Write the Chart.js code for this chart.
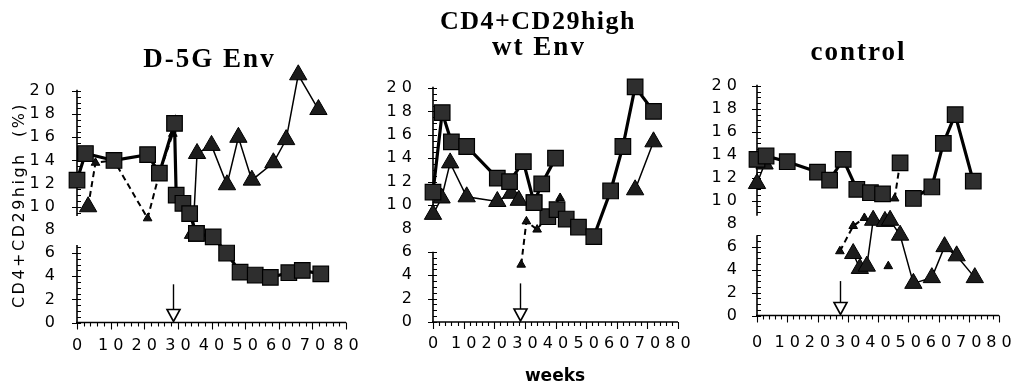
<!DOCTYPE html>
<html>
<head>
<meta charset="utf-8">
<script src="https://cdn.jsdelivr.net/npm/chart.js@4.4.1/dist/chart.umd.min.js"></script>
<style>
  html, body { margin: 0; padding: 0; background: #fff; }
  #wrap { position: relative; width: 1023px; height: 387px; overflow: hidden; background: #fff; }
  #wrap canvas { position: absolute; left: 0; top: 0; }
</style>
</head>
<body>
<div id="wrap">
  <canvas id="pD5G" width="1023" height="387"></canvas>
  <canvas id="pWt" width="1023" height="387"></canvas>
  <canvas id="pCtl" width="1023" height="387"></canvas>
</div>
<script>
// ---- axis ticks ----
const weekTicks = [0, 10, 20, 30, 40, 50, 60, 70, 80];
const pctTicks = [0, 2, 4, 6, 8, 10, 12, 14, 16, 18, 20];

// ---- D-5G Env group (CD4+CD29high %, by week) ----
const d5gSqAWeeks  = [0, 2.5, 11, 21, 24.5, 29, 29.5, 31.5, 33.5, 35.5];
const d5gSqAValues = [12.3, 14.6, 14.0, 14.5, 12.9, 17.2, 11.0, 10.3, 9.4, 7.7];
const d5gSqBWeeks  = [35.5, 40.5, 44.5, 48.5, 53, 57.5, 63, 67, 72.5];
const d5gSqBValues = [7.7, 7.4, 6.0, 4.35, 4.1, 3.9, 4.3, 4.5, 4.2];
const d5gTriWeeks  = [3.3, 20, 34.5, 35.7, 40, 44.6, 48, 52, 58.4, 62.2, 65.8, 71.8];
const d5gTriValues = [10.0, null, 7.7, 14.6, 15.3, 11.9, 16.0, 12.3, 13.8, 15.8, 21.4, 18.4];
const d5gAltWeeks  = [3.3, 5.5, 11, 21, 24.5, 28.5];
const d5gAltValues = [10.0, 13.8, 14.0, 9.0, 12.9, 16.3];

// ---- wt Env group ----
const wtSqAWeeks  = [0, 3, 6, 11, 21, 25, 29.5, 33, 35.5, 40];
const wtSqAValues = [11.1, 17.9, 15.4, 15.0, 12.3, 12.0, 13.7, 10.2, 11.8, 14.0];
const wtSqBWeeks  = [33, 37.5, 40.5, 43.5, 47.5, 52.5, 58, 62, 66, 72];
const wtSqBValues = [10.2, 9.0, 9.6, 8.8, 8.1, 7.3, 11.2, 15.0, 20.1, 18.0];
const wtTriWeeks  = [0, 2.8, 5.6, 11, 21, 25.5, 28, 45, 66, 72];
const wtTriValues = [9.2, 10.6, 13.6, 10.7, 10.3, 11.0, 10.4, null, 11.3, 15.4];
const wtAltWeeks  = [28.8, 30.5, 34, 41.5];
const wtAltValues = [4.9, 8.6, 7.9, 10.6];

// ---- control group ----
const ctlSqAWeeks  = [0, 3, 10, 20, 24, 28.5, 33, 37.5, 41.5];
const ctlSqAValues = [13.6, 13.9, 13.4, 12.5, 11.8, 13.6, 11.0, 10.7, 10.6];
const ctlSqBWeeks  = [47.3, 49.5, 51.7, 57.8, 61.6, 65.5, 71.5];
const ctlSqBValues = [13.3, null, 10.2, 11.2, 15.0, 17.5, 11.7];
const ctlTriWeeks  = [0, 2.5, 20, 31.8, 34, 36.3, 38.4, 42.3, 44, 47.3, 51.7, 57.8, 62, 66, 72];
const ctlTriValues = [11.5, 13.2, null, 5.4, 4.1, 4.3, 8.3, 8.2, 8.3, 7.0, 2.8, 3.3, 6.0, 5.2, 3.3];
const ctlAltWeeks  = [27.4, 31.8, 35.5, 38, 43.4, 44.5, 45.5, 47.3];
const ctlAltValues = [5.6, 7.8, 8.5, null, 4.3, null, 10.2, 13.3];

// week of the arrow marker on each panel
const arrowWeeks = [28.5, 28.5, 27.5];

const pts = (w, v) => w.map((x, i) => ({ x, y: v[i] }));
const spaced = v => String(v).split('').join(' ');

const W = 1023, H = 387, Y_W = 62, X_H = 34;

// draws broken y axis, x axis, minor ticks, arrow and text
const panelDecor = {
  id: 'panelDecor',
  beforeDatasetsDraw(chart, args, o) {
    const ctx = chart.ctx, xs = chart.scales.x, ys = chart.scales.y;
    const x0 = xs.getPixelForValue(0), x1 = xs.getPixelForValue(80);
    const yb = ys.getPixelForValue(0);
    ctx.save();
    ctx.strokeStyle = '#000';
    ctx.lineWidth = 1.6;
    ctx.beginPath();
    ctx.moveTo(x0, ys.getPixelForValue(20.1));
    ctx.lineTo(x0, ys.getPixelForValue(o.gap[1]));
    ctx.moveTo(x0, ys.getPixelForValue(o.gap[0]));
    ctx.lineTo(x0, yb);
    ctx.moveTo(x0 - 1, yb);
    ctx.lineTo(x1, yb);
    ctx.stroke();
    ctx.lineWidth = 1.1;
    ctx.beginPath();
    for (let v = 0; v <= 20.001; v += 0.5) {
      if (v > o.gap[0] + 0.01 && v < o.gap[1] - 0.01) continue;
      const y = Math.round(ys.getPixelForValue(v)) + 0.5;
      if (Math.abs(v % 2) < 0.01) { ctx.moveTo(x0 - 5, y); ctx.lineTo(x0 + 4, y); }
      else { ctx.moveTo(x0, y); ctx.lineTo(x0 + 4, y); }
    }
    for (let w = 0; w <= 80; w += 2) {
      const x = Math.round(xs.getPixelForValue(w)) + 0.5;
      const len = (w % 10 === 0) ? 7 : 4;
      ctx.moveTo(x, yb); ctx.lineTo(x, yb + len);
    }
    ctx.stroke();
    ctx.restore();
  },
  afterDatasetsDraw(chart, args, o) {
    const ctx = chart.ctx, xs = chart.scales.x, ys = chart.scales.y;
    const ax = Math.round(xs.getPixelForValue(o.arrowWeek)) + 0.5;
    const tip = ys.getPixelForValue(0) - 1;
    const top = ys.getPixelForValue(o.arrowFrom);
    const hh = 12, hw = 6.5;
    ctx.save();
    ctx.strokeStyle = '#000';
    ctx.lineWidth = 1.4;
    ctx.beginPath();
    ctx.moveTo(ax, top); ctx.lineTo(ax, tip - hh);
    ctx.stroke();
    ctx.beginPath();
    ctx.moveTo(ax - hw, tip - hh); ctx.lineTo(ax + hw, tip - hh); ctx.lineTo(ax, tip);
    ctx.closePath();
    ctx.fillStyle = '#fff';
    ctx.fill();
    ctx.lineWidth = 1.6;
    ctx.stroke();
    ctx.restore();
  },
  afterDraw(chart, args, o) {
    const ctx = chart.ctx;
    (o.texts || []).forEach(t => {
      ctx.save();
      ctx.font = t.font;
      ctx.fillStyle = '#000';
      ctx.textAlign = 'center';
      ctx.textBaseline = 'alphabetic';
      if ('letterSpacing' in ctx) ctx.letterSpacing = t.spacing || '0px';
      ctx.translate(t.x, t.y);
      if (t.rotate) ctx.rotate(t.rotate);
      ctx.fillText(t.text, 0, 0);
      ctx.restore();
    });
  }
};

function makeDatasets(sqA, sqB, tri, alt) {
  const sqStyle = {
    borderColor: '#000', borderWidth: 3.2, pointStyle: 'rect', pointRadius: 11,
    pointBackgroundColor: '#2e2e2e', pointBorderColor: '#000', pointBorderWidth: 1.2,
    tension: 0, spanGaps: false, clip: false
  };
  return [
    Object.assign({ label: 'A', data: sqA }, sqStyle),
    Object.assign({ label: 'B', data: sqB }, sqStyle),
    {
      label: 'C', data: tri, borderColor: '#000', borderWidth: 1.5,
      pointStyle: 'triangle', pointRadius: 10, pointBackgroundColor: '#1c1c1c',
      pointBorderColor: '#000', pointBorderWidth: 1, tension: 0, spanGaps: false, clip: false
    },
    {
      label: 'D', data: alt, borderColor: '#000', borderWidth: 2, borderDash: [6, 4],
      pointStyle: 'triangle', pointRadius: 5, pointBackgroundColor: '#111',
      pointBorderColor: '#000', pointBorderWidth: 1, tension: 0, spanGaps: false, clip: false
    }
  ];
}

function makePanel(id, area, yPx20, labelPad, datasets, decor) {
  const pxPerUnit = (area.bottom - yPx20) / 20;
  const top = area.bottom - 22 * pxPerUnit;
  const tickFont = { family: '"DejaVu Sans", sans-serif', size: 16 };
  new Chart(document.getElementById(id), {
    type: 'line',
    data: { datasets },
    options: {
      responsive: false,
      animation: false,
      events: [],
      layout: {
        padding: {
          left: area.left - Y_W,
          right: W - area.right,
          top: top,
          bottom: H - area.bottom - X_H
        }
      },
      plugins: {
        legend: { display: false },
        tooltip: { enabled: false },
        title: { display: false },
        panelDecor: decor
      },
      scales: {
        x: {
          type: 'linear', min: 0, max: 80,
          grid: { display: false }, border: { display: false },
          afterBuildTicks: s => { s.ticks = weekTicks.map(v => ({ value: v })); },
          afterFit: s => { s.height = X_H; },
          ticks: {
            color: '#000', font: tickFont, padding: labelPad.x, maxRotation: 0,
            autoSkip: false, callback: v => spaced(v)
          }
        },
        y: {
          type: 'linear', min: 0, max: 22,
          grid: { display: false }, border: { display: false },
          afterBuildTicks: s => { s.ticks = pctTicks.map(v => ({ value: v })); },
          afterFit: s => { s.width = Y_W; },
          ticks: {
            color: '#000', font: tickFont, padding: labelPad.y,
            autoSkip: false, callback: v => spaced(v)
          }
        }
      }
    },
    plugins: [panelDecor]
  });
}

const serifBold = (px) => `bold ${px}px "Liberation Serif", "Times New Roman", serif`;

makePanel('pD5G', { left: 77, right: 346, bottom: 322.5 }, 91, { x: 6, y: 14 },
  makeDatasets(pts(d5gSqAWeeks, d5gSqAValues), pts(d5gSqBWeeks, d5gSqBValues),
               pts(d5gTriWeeks, d5gTriValues), pts(d5gAltWeeks, d5gAltValues)),
  {
    gap: [6.7, 9.2], arrowWeek: arrowWeeks[0], arrowFrom: 3.3,
    texts: [
      { text: 'D-5G Env', x: 209.5, y: 67, font: serifBold(27), spacing: '2px' },
      { text: 'CD4+CD29high  (%)', x: 24, y: 205, font: '16px "DejaVu Sans", sans-serif',
        spacing: '2.5px', rotate: -Math.PI / 2 }
    ]
  });

makePanel('pWt', { left: 433, right: 678, bottom: 322 }, 88, { x: 4, y: 13 },
  makeDatasets(pts(wtSqAWeeks, wtSqAValues), pts(wtSqBWeeks, wtSqBValues),
               pts(wtTriWeeks, wtTriValues), pts(wtAltWeeks, wtAltValues)),
  {
    gap: [6.0, 8.9], arrowWeek: arrowWeeks[1], arrowFrom: 3.3,
    texts: [
      { text: 'CD4+CD29high', x: 538, y: 29, font: serifBold(26), spacing: '1.5px' },
      { text: 'wt Env', x: 539, y: 55, font: serifBold(27), spacing: '2px' },
      { text: 'weeks', x: 555, y: 381, font: 'bold 17px "DejaVu Sans", sans-serif' }
    ]
  });

makePanel('pCtl', { left: 757, right: 999, bottom: 315.5 }, 86, { x: 10, y: 12 },
  makeDatasets(pts(ctlSqAWeeks, ctlSqAValues), pts(ctlSqBWeeks, ctlSqBValues),
               pts(ctlTriWeeks, ctlTriValues), pts(ctlAltWeeks, ctlAltValues)),
  {
    gap: [7.0, 8.7], arrowWeek: arrowWeeks[2], arrowFrom: 3.0,
    texts: [
      { text: 'control', x: 858.5, y: 60, font: serifBold(27), spacing: '2px' }
    ]
  });
</script>
</body>
</html>
